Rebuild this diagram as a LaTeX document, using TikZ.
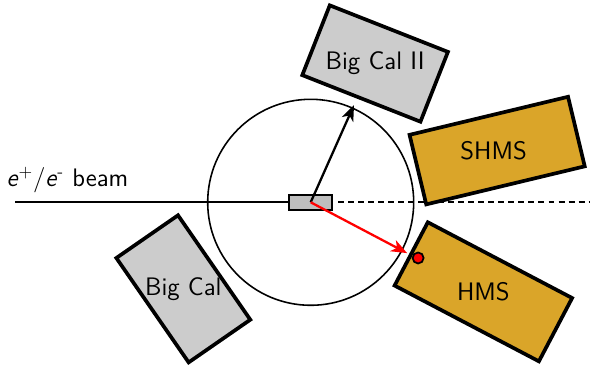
\documentclass[tikz,border=0pt]{standalone}
\usepackage{xcolor}
\usepackage{tikz}
\usetikzlibrary{arrows.meta,calc}
\renewcommand{\familydefault}{\sfdefault}
\definecolor{SpecGold}{RGB}{218,165,41}
\definecolor{CalGray}{RGB}{204,204,204}
\definecolor{TargetGray}{RGB}{190,190,190}

\begin{document}
\begin{tikzpicture}[>={Stealth[length=9pt,width=7pt,inset=2.5pt]},
  calbox/.style={draw,line width=2.1pt,fill=CalGray,minimum width=2.54cm,minimum height=1.5cm,inner sep=0pt},
  specbox/.style={draw,line width=2.1pt,fill=SpecGold,minimum width=3.26cm,minimum height=1.43cm,inner sep=0pt},
  boxlabel/.style={font=\Large,inner sep=0pt}]
  \useasboundingbox (-6.214,-3.276) rectangle (5.666,4.046);
  \coordinate (beamstart) at (-5.91,0);
  \coordinate (beamend) at (5.57,0);
  \draw[line width=0.9pt] (0,0) circle (2.06);
  \draw[line width=1.3pt] (beamstart) -- (0,0);
  \node[draw,line width=1.1pt,fill=TargetGray,minimum width=0.86cm,minimum height=0.3cm,inner sep=0pt] (target) at (0,0) {};
  \draw[line width=1.3pt,dash pattern=on 3.4pt off 2.3pt] ($(target.east)+(0.1,0)$) -- (beamend);
  \node[font=\Large,anchor=base west,inner sep=0pt] (beamlabel) at (-6.09,0.306) {\textit{e}\textsuperscript{+}/\textit{e}\textsuperscript{-} beam};
  \node[calbox,rotate=-21.5] (bigcalii) at (65.1:3.06) {};
  \node[boxlabel] (bigcaliitext) at (bigcalii.center) {Big Cal II};
  \node[calbox,rotate=-55.3] (bigcal) at (214.2:3.08) {};
  \node[boxlabel] (bigcaltext) at (bigcal.center) {Big Cal};
  \node[specbox,rotate=13.5] (shms) at (15.5:3.87) {};
  \node[boxlabel,xshift=-2pt] (shmstext) at (shms.center) {SHMS};
  \node[specbox,rotate=-27.7] (hms) at (-27.4:3.89) {};
  \node[boxlabel] (hmstext) at (hms.center) {HMS};
  \node[circle,draw,line width=1pt,fill=red,minimum size=0.22cm,inner sep=0pt] (hmsdot) at (-27.4:2.42) {};
  \coordinate (tipii) at (66:2.13);
  \coordinate (tiphms) at (-27.8:2.18);
  \draw[->,line width=1.3pt] (target.center) -- (tipii);
  \draw[->,line width=1.3pt,red] (target.center) -- (tiphms);
\end{tikzpicture}
\end{document}
